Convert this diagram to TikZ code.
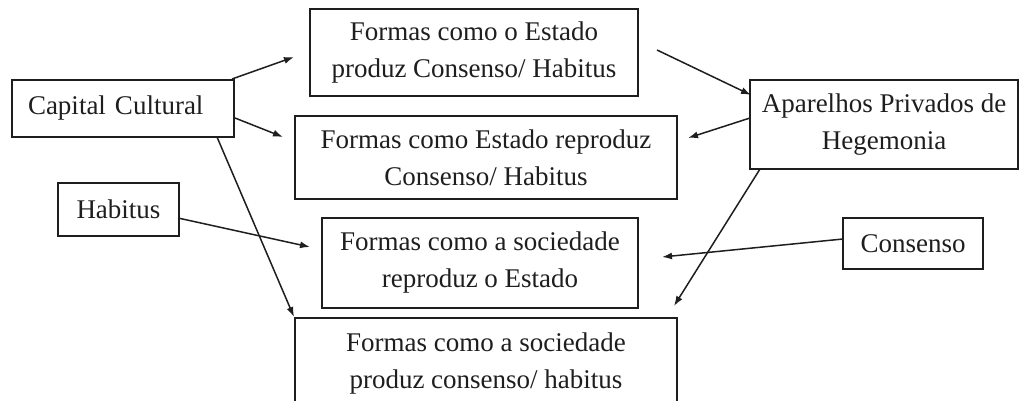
\documentclass[tikz,border=0pt]{standalone}
\usepackage{fontspec}
\setmainfont{Liberation Serif}
\usetikzlibrary{arrows.meta}
\definecolor{ink}{HTML}{1E1E1E}
\tikzset{
  box/.style={draw=ink, line width=1.6pt, rectangle, inner sep=0pt, text=ink,
    align=center, font=\fontsize{27}{37}\selectfont},
  conn/.style={draw=ink, line width=1.5pt, -{Latex[length=10pt,width=7pt]}}
}
\begin{document}
\begin{tikzpicture}[x=1pt,y=-1pt]
\useasboundingbox (0,0) rectangle (1020,401);
\clip (0,0) rectangle (1020,401);
\node[box, minimum width=222pt, minimum height=57pt, text width=190pt, align=left, inner xsep=16pt] (cap) at (123,108.5) {Capital Cultural};
\node[box, minimum width=328pt, minimum height=87pt] (b1) at (474,52.5) {Formas como o Estado\\produz Consenso/ Habitus};
\node[box, minimum width=382pt, minimum height=83pt] (b2) at (486,157.5) {Formas como Estado reproduz\\Consenso/ Habitus};
\node[box, minimum width=268pt, minimum height=89pt] (apa) at (884,124.5) {Aparelhos Privados de\\Hegemonia};
\node[box, minimum width=140pt, minimum height=51pt] (cons) at (913,243.5) {Consenso};
\node[box, minimum width=121pt, minimum height=53pt] (hab) at (118.5,209.5) {Habitus};
\node[box, minimum width=316pt, minimum height=90pt] (b3) at (480,263) {Formas como a sociedade\\reproduz o Estado};
\node[box, minimum width=382pt, minimum height=92pt] (b4) at (486,364) {Formas como a sociedade\\produz consenso/ habitus};

\coordinate (a1s) at (232,79);  \coordinate (a1e) at (294,57);
\coordinate (a2s) at (235,118); \coordinate (a2e) at (283,137);
\coordinate (a3s) at (217,137); \coordinate (a3e) at (294,317);
\coordinate (a4s) at (657,50);  \coordinate (a4e) at (751,95);
\coordinate (a5s) at (750,118); \coordinate (a5e) at (688,138);
\coordinate (a6s) at (760,169); \coordinate (a6e) at (674,306);
\coordinate (a7s) at (843,239); \coordinate (a7e) at (662,257);
\coordinate (a8s) at (178,218); \coordinate (a8e) at (310,247);

\draw[conn] (a1s) -- (a1e);
\draw[conn] (a2s) -- (a2e);
\draw[conn] (a3s) -- (a3e);
\draw[conn] (a4s) -- (a4e);
\draw[conn] (a5s) -- (a5e);
\draw[conn] (a6s) -- (a6e);
\draw[conn] (a7s) -- (a7e);
\draw[conn] (a8s) -- (a8e);
\end{tikzpicture}
\end{document}
